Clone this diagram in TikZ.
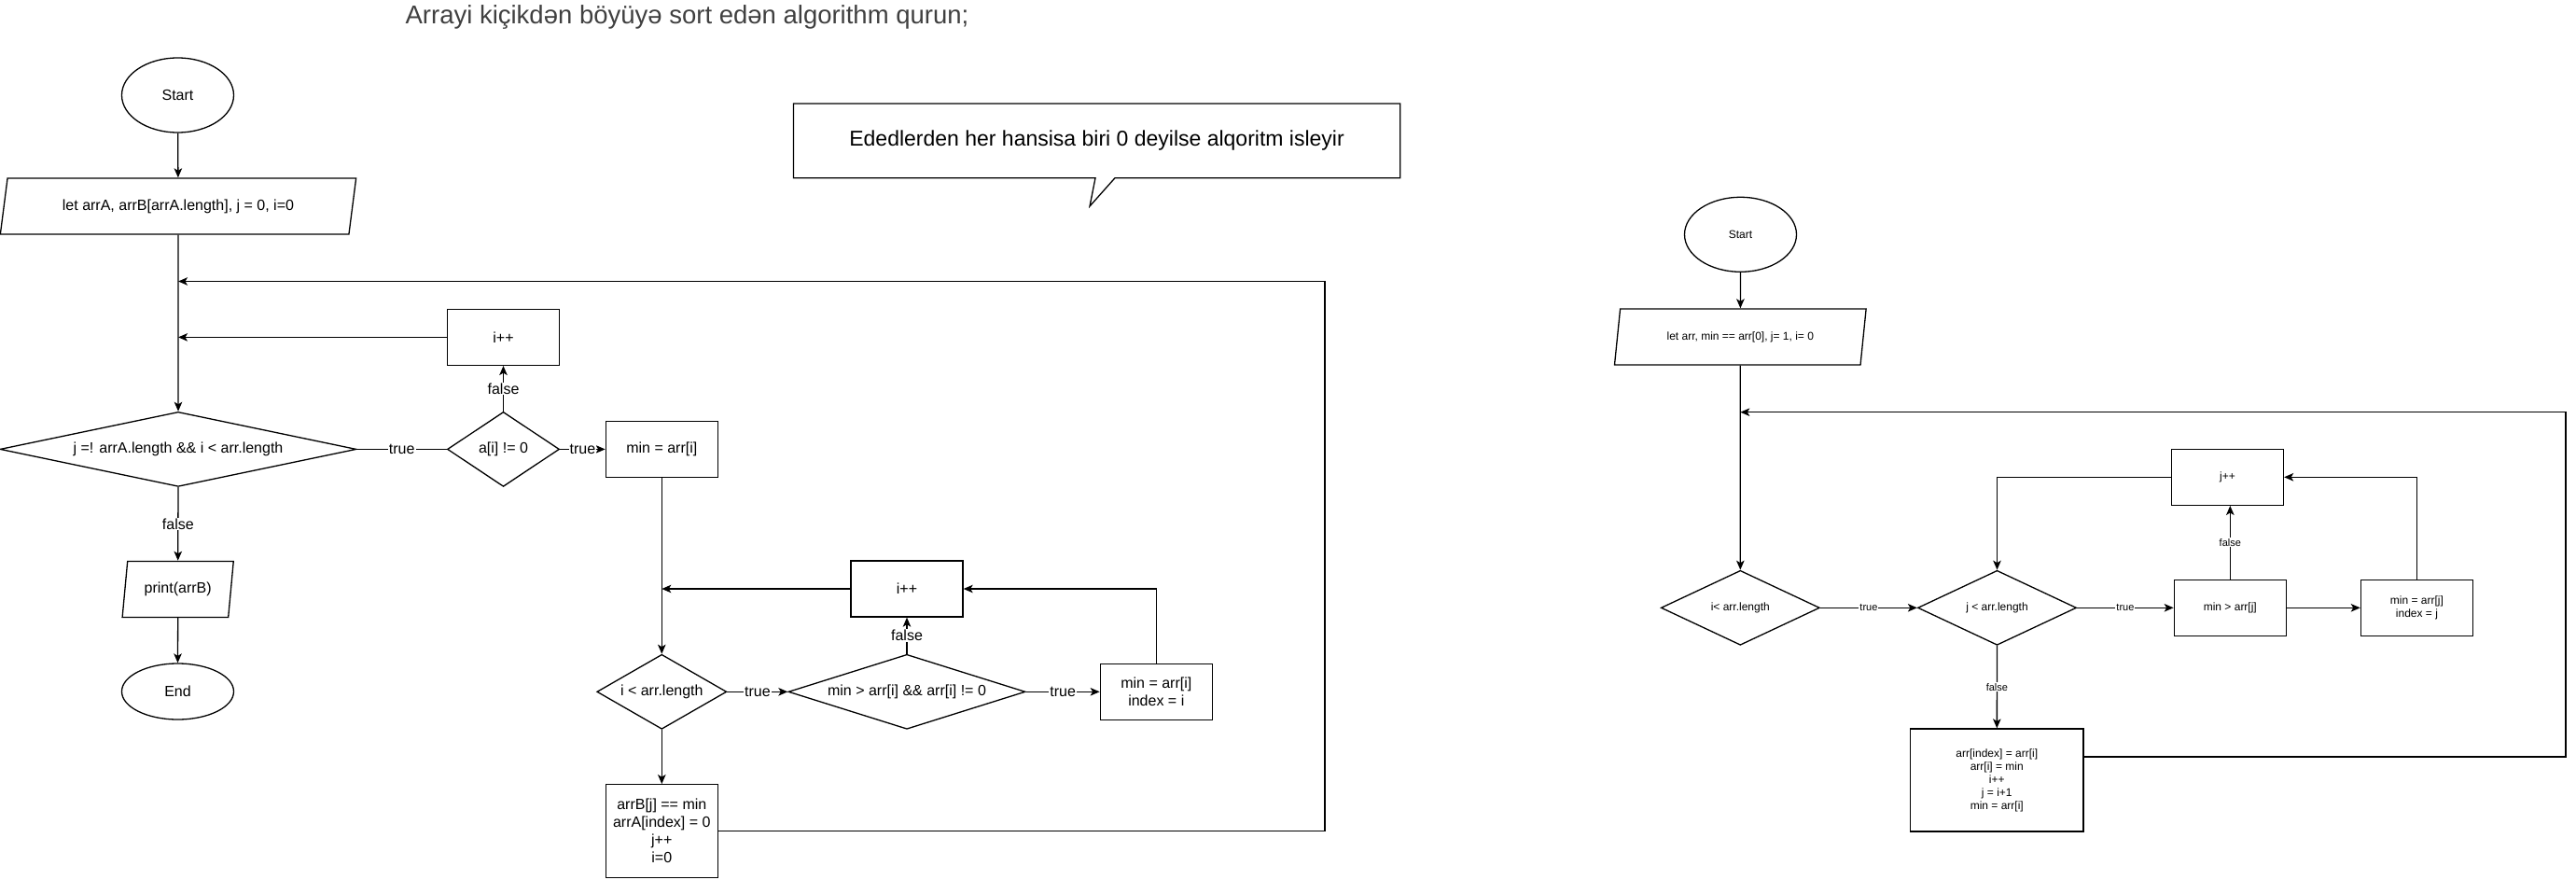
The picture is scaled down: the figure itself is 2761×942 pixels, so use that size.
\documentclass[tikz,border=0pt]{standalone}
\usepackage{fontspec}
\setmainfont{Liberation Sans}
\usetikzlibrary{shapes.geometric, arrows.meta}
\definecolor{titlegray}{HTML}{404040}
\begin{document}
\begin{tikzpicture}[x=1pt,y=-1pt,
  fl/.style={font=\fontsize{16}{19}\selectfont},
  fr/.style={font=\fontsize{12}{14}\selectfont},
  ln/.style={line width=1.3pt},
  arr/.style={ln, -{Stealth[length=10pt,width=8.5pt,inset=2.5pt]}},
  box/.style={draw, ln, rectangle, inner sep=0pt, minimum width=120, minimum height=60, align=center},
  term/.style={draw, ln, ellipse, inner sep=0pt, minimum width=120, minimum height=#1},
  io/.style={draw, ln, trapezium, trapezium stretches=true, inner sep=0pt},
  dia/.style={draw, ln, diamond, inner sep=0pt, align=center},
  lbl/.style={fill=white, inner sep=1pt},
  lbll/.style={lbl, font=\fontsize{16}{19}\selectfont},
  lblr/.style={lbl, font=\fontsize{11}{13}\selectfont}]
\useasboundingbox (0,0) rectangle (2761,942);

% title and note
\node[font=\fontsize{27.5}{33}\selectfont, text=titlegray, anchor=base] (title) at (736.5,26) {Arrayi kiçikdən böyüyə sort edən algorithm qurun;};
\node[font=\fontsize{23}{27}\selectfont] (note) at (1175.6,150.8) {Ededlerden her hansisa biri 0 deyilse alqoritm isleyir};
\draw[ln] (850.4,111) -- (1500.8,111) -- (1500.8,190.7) -- (1195,190.7) -- (1168,221) -- (1174,190.7) -- (850.4,190.7) -- cycle;

% ---------------- left flowchart ----------------
\begin{scope}[every node/.append style={fl}]
\node[term=80] (s1) at (190.5,102) {Start};
\node[io, trapezium left angle=70.7, trapezium right angle=109.3, minimum width=382, minimum height=60] (p1) at (191,221) {let arrA, arrB[arrA.length], j = 0, i=0};
\node[box] (b1) at (539.5,361.4) {i++};
\node[dia, minimum width=382, minimum height=80, shape aspect=4.8] (d1) at (191,481.4) {j =! arrA.length \&\& i < arr.length};
\node[dia, minimum width=120, minimum height=80, shape aspect=1.5] (d2) at (539.5,481.4) {a[i] != 0};
\node[box] (b2) at (709.3,481.4) {min = arr[i]};
\node[io, trapezium left angle=76, trapezium right angle=104, minimum width=120, minimum height=60] (p3) at (190.7,631.4) {print(arrB)};
\node[term=60] (e1) at (190.5,741) {End};
\node[box] (b3) at (972,631) {i++};
\node[dia, minimum width=139, minimum height=80, shape aspect=1.74] (d3) at (709.3,741.3) {i < arr.length};
\node[dia, minimum width=254, minimum height=80, shape aspect=3.175] (d4) at (972,741.3) {min > arr[i] \&\& arr[i] != 0};
\node[box] (b4) at (1239.3,741.3) {min = arr[i]\\index = i};
\node[box, minimum height=100] (b5) at (709.3,890.7) {arrB[j] == min\\arrA[index] = 0\\j++\\i=0};
\end{scope}

\coordinate (fbR) at (1420,301.5);
\coordinate (fbL) at (p1.south |- fbR);
\draw[arr] (s1) -- (p1);
\draw[arr] (p1.south) -- (d1.north);
\draw[arr] (b5.east) -| (fbR) -- (fbL);
\draw[arr] (b1.west) -- (b1.west -| p1.south);
\draw[ln] (d1.east) -- node[lbll] {true} (d2.west);
\draw[arr] (d2.north) -- node[lbll] {false} (b1.south);
\draw[arr] (d2.east) -- node[lbll] {true} (b2.west);
\draw[arr] (d1.south) -- node[lbll] {false} (p3.north);
\draw[arr] (p3.south) -- (e1.north);
\draw[arr] (b2.south) -- (d3.north);
\draw[arr] (b3.west) -- (b3.west -| b2.south);
\draw[arr] (d3.east) -- node[lbll] {true} (d4.west);
\draw[arr] (d4.north) -- node[lbll] {false} (b3.south);
\draw[arr] (d4.east) -- node[lbll] {true} (b4.west);
\draw[arr] (b4.north) |- (b3.east);
\draw[arr] (d3.south) -- (b5.north);

% ---------------- right flowchart ----------------
\begin{scope}[every node/.append style={fr}]
\node[term=80] (rs) at (1865.5,251.3) {Start};
\node[io, trapezium left angle=71.6, trapezium right angle=108.4, minimum width=270, minimum height=60] (rp) at (1865.3,361) {let arr, min == arr[0], j= 1, i= 0};
\node[dia, minimum width=170, minimum height=80, shape aspect=2.1] (rd1) at (1865.3,651.3) {i< arr.length};
\node[dia, minimum width=170, minimum height=80, shape aspect=2.1] (rd2) at (2140.5,651.3) {j < arr.length};
\node[box] (rb1) at (2387.5,511.3) {j++};
\node[box] (rb2) at (2390.3,651.3) {min > arr[j]};
\node[box] (rb3) at (2590.4,651.3) {min = arr[j]\\index = j};
\node[box, minimum width=185.5, minimum height=110] (rb5) at (2140.3,836) {arr[index] = arr[i]\\arr[i] = min\\i++\\j = i+1\\min = arr[i]};
\end{scope}

\coordinate (rfbR) at (2750,441.7);
\coordinate (rfbL) at (rp.south |- rfbR);
\draw[arr] (rs) -- (rp);
\draw[arr] (rp.south) -- (rd1.north);
\draw[arr] ([yshift=25pt]rb5.east) -| (rfbR) -- (rfbL);
\draw[arr] (rd1.east) -- node[lblr] {true} (rd2.west);
\draw[arr] (rb1.west) -| (rd2.north);
\draw[arr] (rd2.east) -- node[lblr] {true} (rb2.west);
\draw[arr] (rb2.north) -- node[lblr] {false} (rb2.north |- rb1.south);
\draw[arr] (rb2.east) -- (rb3.west);
\draw[arr] (rb3.north) |- (rb1.east);
\draw[arr] (rd2.south) -- node[lblr] {false} (rb5.north);
\end{tikzpicture}
\end{document}
